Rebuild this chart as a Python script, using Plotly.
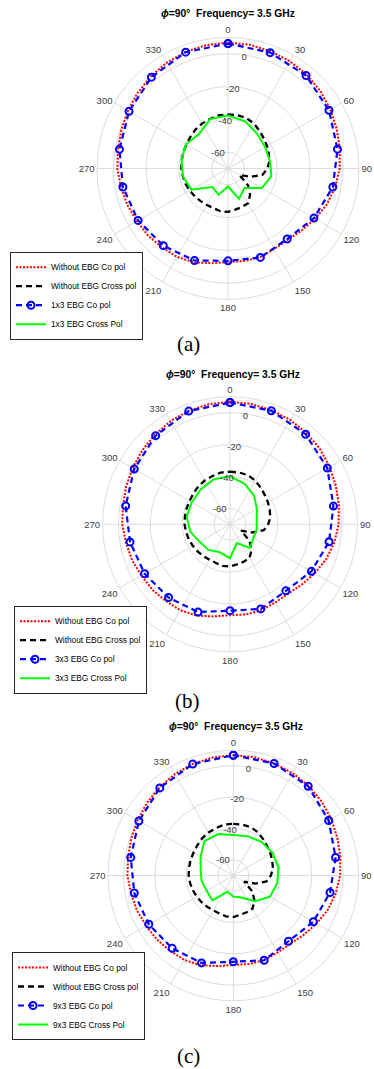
import plotly.graph_objects as go

# ---------------- data ----------------
theta_fine = list(range(0, 360, 10))      # 10 deg steps (Without EBG curves)
theta_coarse = list(range(0, 360, 20))    # 20 deg steps (EBG curves)
angle_ticks = list(range(0, 360, 30))
angle_labels = [str(a) for a in angle_ticks]
r_ticks = [-60, -40, -20, 0]

without_co = [6.9, 6.7, 6.2, 5.6, 4.8, 3.6, 2.2, 0.7, -0.7, -1.8,
              -3.6, -5.8, -8.6, -11.2, -13.2, -13.3, -12.5, -12.6, -12.9, -11.3,
              -9.0, -7.7, -7.2, -6.3, -5.8, -4.6, -3.7, -2.4, -1.8, -0.7,
              0.6, 2.0, 3.4, 4.7, 5.8, 6.5]
without_cross = [-37.0, -37.0, -37.2, -38.3, -40.0, -41.5, -42.5, -43.5, -44.3, -46.0,
                 -48.5, -55.0, -62.0, -54.0, -49.0, -45.5, -45.0, -44.5, -43.5, -43.5,
                 -44.2, -44.3, -44.0, -43.5, -43.0, -42.5, -42.0, -41.5, -41.3, -41.0,
                 -40.7, -40.0, -39.0, -38.3, -37.8, -37.0]

ebg1x3_co = [6.3, 5.3, 4.1, 1.2, -2.1, -5.0, -9.4, -13.8, -12.2, -13.6,
             -10.2, -8.5, -6.6, -4.8, -2.7, -0.2, 2.8, 5.6]
ebg1x3_cross = [-37.6, -39.3, -42.3, -43.8, -44.0, -43.1, -46.1, -54.4, -50.3, -59.0,
                -53.0, -55.2, -44.2, -42.1, -41.2, -40.4, -42.5, -37.9]

ebg3x3_co = [6.4, 5.8, 3.8, 0.5, -4.1, -6.9, -11.0, -15.5, -13.5, -15.8,
             -11.4, -10.0, -8.1, -6.3, -3.5, -0.6, 2.6, 5.6]
ebg3x3_cross = [-39.9, -43.0, -46.5, -50.5, -53.0, -53.0, -53.0, -50.6, -57.5, -48.7,
                -51.3, -49.0, -48.0, -44.6, -42.4, -42.3, -41.4, -40.0]

ebg9x3_co = [6.8, 6.1, 4.4, 0.3, -3.7, -7.3, -11.0, -15.2, -12.4, -14.9,
             -10.6, -9.3, -7.7, -5.8, -3.5, -0.4, 3.0, 5.7]
ebg9x3_cross = [-44.2, -43.3, -42.0, -41.1, -40.7, -41.5, -43.0, -48.5, -55.0, -56.5,
                -59.0, -49.3, -50.4, -49.5, -48.8, -45.9, -41.3, -41.8]

panels = [
    ("1x3", ebg1x3_co, ebg1x3_cross, "(a)"),
    ("3x3", ebg3x3_co, ebg3x3_cross, "(b)"),
    ("9x3", ebg9x3_co, ebg9x3_cross, "(c)"),
]

W, H = 374, 1069
# polar geometry in pixels: center x, center y, outer radius
geom = [(228.0, 168.5, 131.0), (230.0, 524.3, 127.5), (233.3, 875.5, 125.3)]
title_pos = [(228.0, 14.0), (233.3, 374.0), (236.0, 726.0)]
caption_pos = [(188.0, 344.0), (187.0, 701.0), (188.0, 1056.0)]
legend_pos = [(10.0, 295.7), (14.0, 649.7), (12.0, 996.0)]


def closed(th, r):
    return list(th) + [th[0] + 360], list(r) + [r[0]]


fig = go.Figure()
FONT = "Liberation Sans, Arial, sans-serif"
GRID = "#dcdcdc"

annotations = []
for i, (name, co, cross, cap) in enumerate(panels):
    sub = "polar" if i == 0 else f"polar{i+1}"
    leg = "legend" if i == 0 else f"legend{i+1}"

    th, r = closed(theta_fine, without_co)
    fig.add_trace(go.Scatterpolar(theta=th, r=r, mode="lines", name="Without EBG Co pol",
                                  line=dict(color="#ff0000", width=2, dash="2px,1.5px"),
                                  subplot=sub, legend=leg))
    th, r = closed(theta_fine, without_cross)
    fig.add_trace(go.Scatterpolar(theta=th, r=r, mode="lines", name="Without EBG Cross pol",
                                  line=dict(color="#000000", width=2.3, dash="6px,4px"),
                                  subplot=sub, legend=leg))
    th, r = closed(theta_coarse, co)
    fig.add_trace(go.Scatterpolar(theta=th, r=r, mode="lines+markers", name=f"{name} EBG Co pol",
                                  line=dict(color="#0000ff", width=2.2, dash="6px,4px"),
                                  marker=dict(symbol="circle-open", size=7, color="#0000ff",
                                              line=dict(width=2, color="#0000ff")),
                                  subplot=sub, legend=leg))
    th, r = closed(theta_coarse, cross)
    fig.add_trace(go.Scatterpolar(theta=th, r=r, mode="lines", name=f"{name} EBG Cross Pol",
                                  line=dict(color="#00ff00", width=2),
                                  subplot=sub, legend=leg))

    cx, cy, R = geom[i]
    polar = dict(
        domain=dict(x=[(cx - R) / W, (cx + R) / W], y=[1 - (cy + R) / H, 1 - (cy - R) / H]),
        bgcolor="white",
        angularaxis=dict(rotation=90, direction="clockwise", tickmode="array",
                         tickvals=angle_ticks, ticktext=angle_labels,
                         showgrid=True, gridcolor=GRID, gridwidth=1,
                         showline=True, linecolor=GRID, linewidth=1, ticks="",
                         tickfont=dict(family=FONT, size=9.5, color="#404040")),
        radialaxis=dict(range=[-70, 10], tickmode="array", tickvals=r_ticks,
                        ticktext=[str(v) for v in r_ticks],
                        showgrid=True, gridcolor=GRID, gridwidth=1,
                        showline=False, ticks="", angle=77, tickangle=77,
                        side="counterclockwise",
                        tickfont=dict(family=FONT, size=9.5, color="#404040")),
    )
    fig.update_layout(**{sub: polar})

    lx, ly = legend_pos[i]
    fig.update_layout(**{leg: dict(x=lx / W, y=1 - ly / H, xanchor="left", yanchor="middle",
                                   bgcolor="white", bordercolor="#262626", borderwidth=1,
                                   font=dict(family=FONT, size=8.3, color="#000000"),
                                   tracegroupgap=0)})

    tx, ty = title_pos[i]
    annotations.append(dict(text="<b><i>ϕ</i>=90°  Frequency= 3.5 GHz</b>", x=tx / W, y=1 - ty / H,
                            xref="paper", yref="paper", xanchor="center", yanchor="middle",
                            showarrow=False, font=dict(family=FONT, size=10.3, color="#000000")))
    px, py = caption_pos[i]
    annotations.append(dict(text=cap, x=px / W, y=1 - py / H, xref="paper", yref="paper",
                            xanchor="center", yanchor="middle", showarrow=False,
                            font=dict(family="Liberation Serif, Times New Roman, serif", size=21,
                                      color="#000000")))

fig.update_layout(width=W, height=H, margin=dict(l=0, r=0, t=0, b=0),
                  paper_bgcolor="white", plot_bgcolor="white",
                  annotations=annotations, showlegend=True)

fig.write_html("out.html")
